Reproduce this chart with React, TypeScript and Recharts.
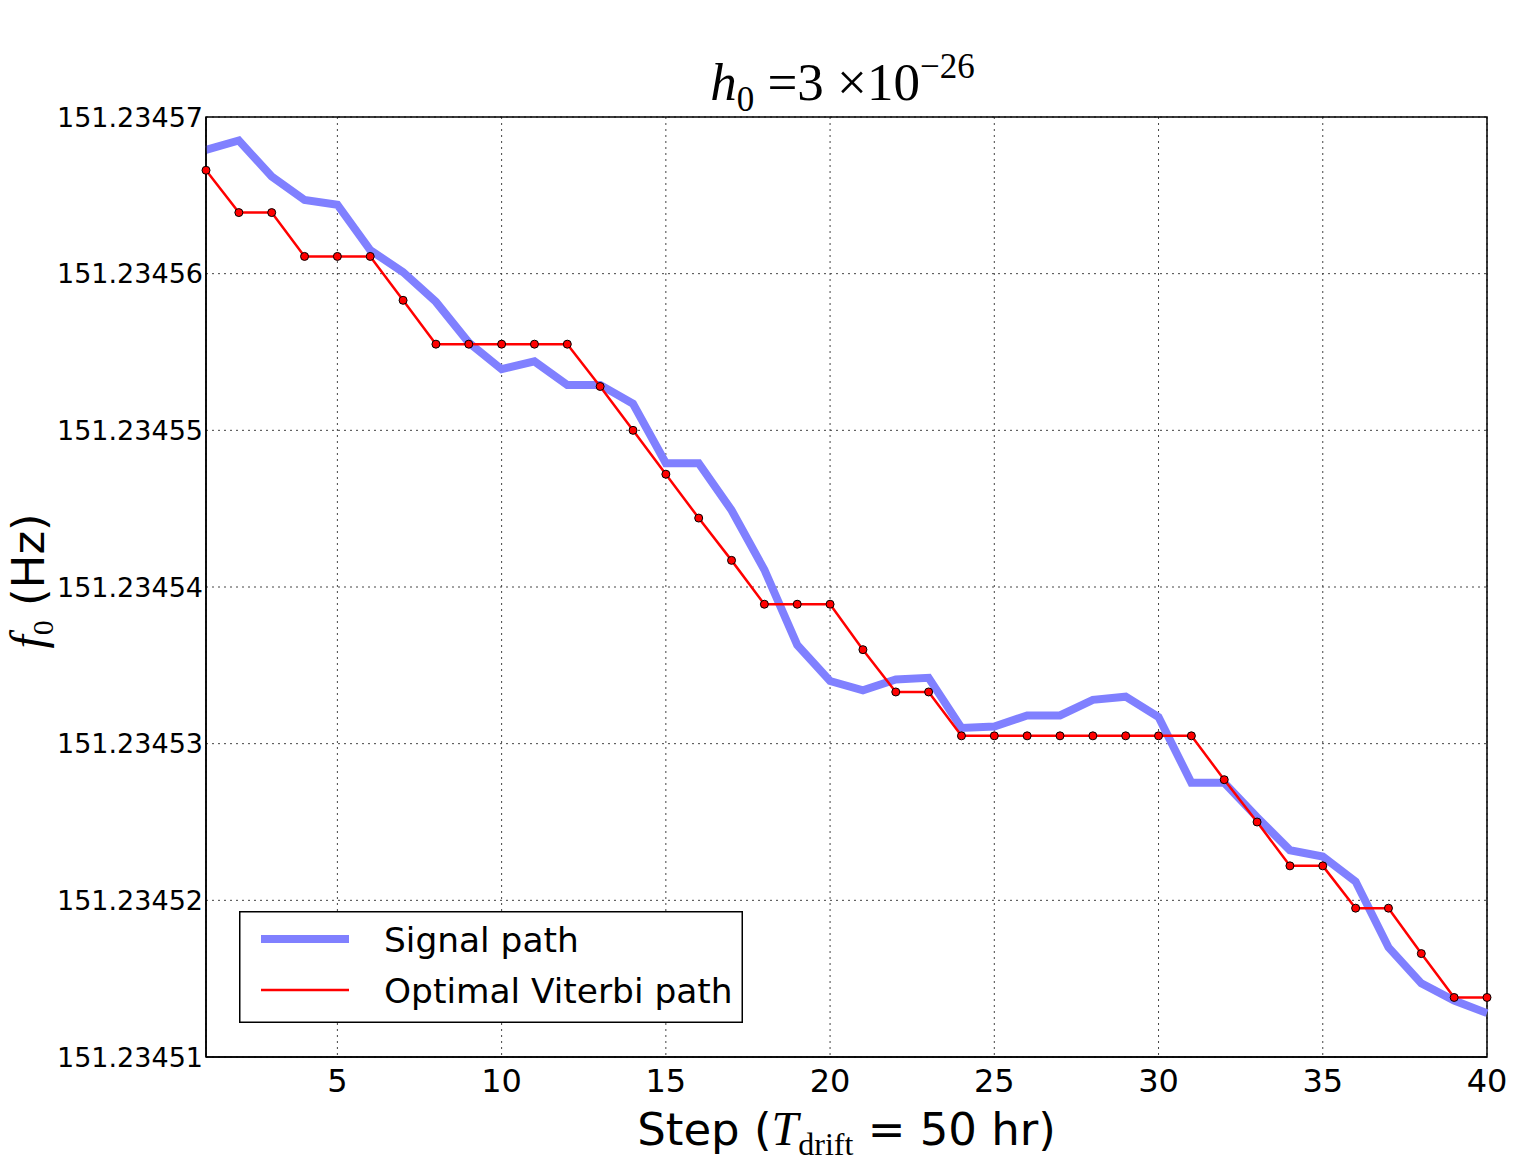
import { LineChart, Line, XAxis, YAxis, CartesianGrid, Legend, ReferenceArea } from 'recharts';

// step index (T_drift = 50 hr per step)
const steps = [
  1, 2, 3, 4, 5, 6, 7, 8, 9, 10,
  11, 12, 13, 14, 15, 16, 17, 18, 19, 20,
  21, 22, 23, 24, 25, 26, 27, 28, 29, 30,
  31, 32, 33, 34, 35, 36, 37, 38, 39, 40,
];

// injected signal frequency (Hz)
const signalPath = [
  151.2345679, 151.2345685, 151.2345662, 151.2345647, 151.2345644,
  151.2345615, 151.2345601, 151.2345582, 151.2345556, 151.2345539,
  151.2345544, 151.2345529, 151.2345529, 151.2345517, 151.2345479,
  151.2345479, 151.2345449, 151.2345411, 151.2345363, 151.2345340,
  151.2345334, 151.2345341, 151.2345342, 151.2345310, 151.2345311,
  151.2345318, 151.2345318, 151.2345328, 151.2345330, 151.2345317,
  151.2345275, 151.2345275, 151.2345253, 151.2345232, 151.2345228,
  151.2345212, 151.2345170, 151.2345147, 151.2345136, 151.2345128,
];

// recovered Viterbi path (Hz)
const viterbiPath = [
  151.2345666, 151.2345639, 151.2345639, 151.2345611, 151.2345611,
  151.2345611, 151.2345583, 151.2345555, 151.2345555, 151.2345555,
  151.2345555, 151.2345555, 151.2345528, 151.2345500, 151.2345472,
  151.2345444, 151.2345417, 151.2345389, 151.2345389, 151.2345389,
  151.2345360, 151.2345333, 151.2345333, 151.2345305, 151.2345305,
  151.2345305, 151.2345305, 151.2345305, 151.2345305, 151.2345305,
  151.2345305, 151.2345277, 151.2345250, 151.2345222, 151.2345222,
  151.2345195, 151.2345195, 151.2345166, 151.2345138, 151.2345138,
];

const xTicks = [5, 10, 15, 20, 25, 30, 35, 40];
const yTicks = [
  151.23451, 151.23452, 151.23453, 151.23454, 151.23455, 151.23456, 151.23457,
];
const xDomain = [1, 40];
const yDomain = [151.23451, 151.23457];
const legendOrder = ['signal', 'viterbi'];

const data = steps.map((s, i) => ({
  step: s,
  signal: signalPath[i],
  viterbi: viterbiPath[i],
}));

const SANS = 'DejaVu Sans';
const SERIF = 'Liberation Serif';
const BLUE = '#8080ff';
const RED = '#ff0000';

const Title = ({ viewBox }: any) => {
  const cx = viewBox.x + viewBox.width / 2;
  return (
    <text x={cx - 4} y={viewBox.y - 17} textAnchor="middle" fontFamily={SERIF} fontSize={53} fill="#000">
      <tspan fontStyle="italic">h</tspan>
      <tspan fontSize={35} dy={11}>0</tspan>
      <tspan dy={-11}> =3 ×10</tspan>
      <tspan fontSize={35} dy={-22}>−26</tspan>
    </text>
  );
};

const XTitle = ({ viewBox }: any) => (
  <text x={viewBox.x + viewBox.width / 2} y={viewBox.y + 88} textAnchor="middle" fontFamily={SANS} fontSize={45} fill="#000">
    <tspan>Step (</tspan>
    <tspan fontFamily={SERIF} fontStyle="italic" fontSize={48}>T</tspan>
    <tspan fontFamily={SERIF} fontSize={32} dy={10}>drift</tspan>
    <tspan dy={-10}> = 50 hr)</tspan>
  </text>
);

const YTitle = ({ viewBox }: any) => {
  const cy = viewBox.y + viewBox.height / 2;
  return (
    <text transform={`translate(${viewBox.x - 12}, ${cy - 6}) rotate(-90)`} textAnchor="middle" fontFamily={SANS} fontSize={45} fill="#000">
      <tspan fontFamily={SERIF} fontStyle="italic" fontSize={48}>f</tspan>
      <tspan fontFamily={SERIF} fontSize={30} dy={9}>0</tspan>
      <tspan dy={-9}>{'   (Hz)'}</tspan>
    </text>
  );
};

const LegendBox = ({ payload }: any) => {
  const widths: Record<string, number> = { signal: 8, viterbi: 2.5 };
  const items = [...(payload ?? [])].sort(
    (a: any, b: any) => legendOrder.indexOf(a.dataKey) - legendOrder.indexOf(b.dataKey),
  );
  return (
    <svg width={504} height={112} style={{ display: 'block' }}>
      <rect x={0.75} y={0.75} width={502.5} height={110.5} fill="#fff" stroke="#000" strokeWidth={1.5} />
      {items.map((p: any, i: number) => (
        <g key={p.dataKey}>
          <line x1={22} x2={110} y1={28 + i * 51} y2={28 + i * 51} stroke={p.color} strokeWidth={widths[p.dataKey]} />
          <text x={145} y={41 + i * 51} fontFamily={SANS} fontSize={34.4} fill="#000">{p.value}</text>
        </g>
      ))}
    </svg>
  );
};

export default function App() {
  return (
    <div style={{ position: 'absolute', left: 0, top: 0, background: '#fff' }}>
      <LineChart width={1530} height={1174} data={data} margin={{ top: 117, right: 43, bottom: 57, left: 56 }}>
        <CartesianGrid stroke="#444" strokeDasharray="2 4" strokeWidth={1} />
        <XAxis
          dataKey="step"
          type="number"
          domain={xDomain}
          ticks={xTicks}
          height={60}
          tickSize={0}
          tickLine={false}
          tickMargin={12}
          tick={{ fill: '#000', fontSize: 32, fontFamily: SANS }}
          axisLine={{ stroke: '#000', strokeWidth: 1.5 }}
          label={{ content: (p: any) => <XTitle viewBox={p.viewBox} /> }}
        />
        <YAxis
          type="number"
          domain={yDomain}
          ticks={yTicks}
          width={150}
          tickSize={0}
          tickLine={false}
          tickMargin={3}
          tickFormatter={(v: number) => v.toFixed(5)}
          tick={{ fill: '#000', fontSize: 27, fontFamily: SANS }}
          axisLine={{ stroke: '#000', strokeWidth: 1.5 }}
          label={{ content: (p: any) => <YTitle viewBox={p.viewBox} /> }}
        />
        {/* plot frame + title */}
        <ReferenceArea
          x1={xDomain[0]}
          x2={xDomain[1]}
          y1={yDomain[0]}
          y2={yDomain[1]}
          fill="none"
          fillOpacity={0}
          stroke="#000"
          strokeWidth={1.5}
          label={{ content: (p: any) => <Title viewBox={p.viewBox} /> }}
        />
        <Legend
          layout="horizontal"
          verticalAlign="middle"
          align="center"
          content={<LegendBox />}
          wrapperStyle={{ position: 'absolute', left: 239, top: 911, width: 504, height: 112 }}
        />
        <Line
          dataKey="signal"
          name="Signal path"
          stroke={BLUE}
          strokeWidth={8}
          dot={false}
          isAnimationActive={false}
        />
        <Line
          dataKey="viterbi"
          name="Optimal Viterbi path"
          stroke={RED}
          strokeWidth={2.5}
          dot={{ r: 4, fill: RED, stroke: '#000', strokeWidth: 1 }}
          isAnimationActive={false}
        />
      </LineChart>
    </div>
  );
}
